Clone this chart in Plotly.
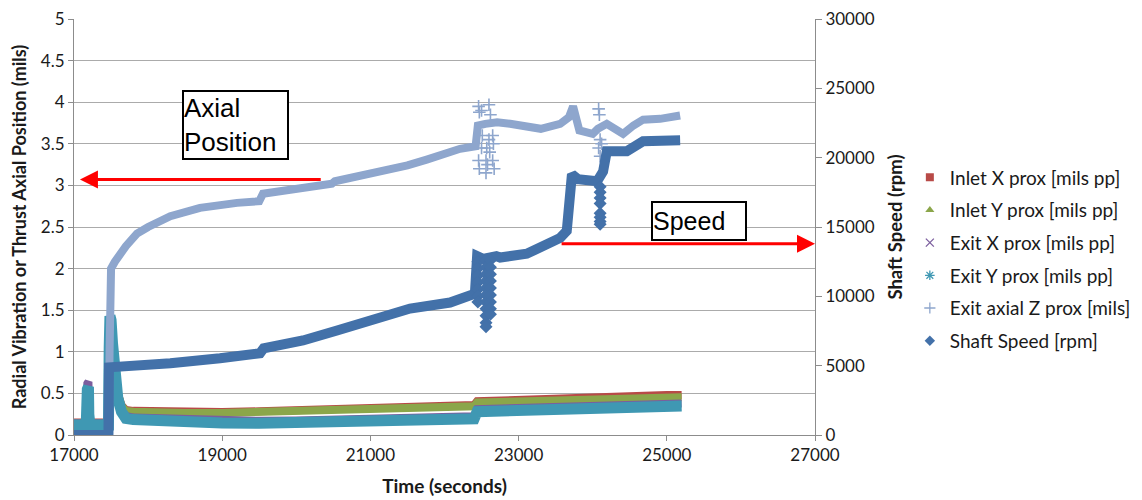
import plotly.graph_objects as go

# ---------------- data ----------------
t_vib = [17000, 17100, 17165, 17180, 17195, 17200, 17215, 17300, 17400, 17465,
         17475, 17485, 17500, 17520, 17550, 17590, 17640, 17700, 17800, 18000,
         18500, 19000, 19500, 20000, 20500, 21000, 21500, 22000, 22400, 22440,
         22700, 23000, 23500, 24000, 24500, 25000, 25200]

inlet_x = [0.15, 0.15, 0.15, 0.17, 0.16, 0.15, 0.15, 0.15, 0.15, 0.15,
           0.9, 1.35, 1.25, 1.0, 0.7, 0.5, 0.36, 0.3, 0.29, 0.285,
           0.28, 0.275, 0.285, 0.30, 0.315, 0.325, 0.335, 0.35, 0.36, 0.405,
           0.415, 0.425, 0.44, 0.455, 0.47, 0.48, 0.48]

inlet_y = [0.14, 0.14, 0.14, 0.15, 0.15, 0.14, 0.14, 0.14, 0.14, 0.14,
           0.85, 1.4, 1.3, 1.05, 0.72, 0.5, 0.35, 0.29, 0.28, 0.27,
           0.265, 0.265, 0.275, 0.285, 0.30, 0.31, 0.32, 0.335, 0.345, 0.39,
           0.395, 0.405, 0.42, 0.435, 0.445, 0.455, 0.455]

exit_x = [0.14, 0.14, 0.14, 0.62, 0.64, 0.3, 0.14, 0.14, 0.14, 0.14,
          1.0, 1.42, 1.35, 1.05, 0.7, 0.45, 0.3, 0.23, 0.21, 0.205,
          0.19, 0.175, 0.17, 0.175, 0.185, 0.195, 0.205, 0.215, 0.225, 0.31,
          0.315, 0.325, 0.34, 0.355, 0.37, 0.38, 0.38]

exit_y = [0.12, 0.12, 0.12, 0.55, 0.58, 0.25, 0.12, 0.12, 0.12, 0.12,
          1.05, 1.43, 1.38, 1.1, 0.72, 0.45, 0.28, 0.2, 0.185, 0.175,
          0.16, 0.145, 0.14, 0.145, 0.155, 0.165, 0.175, 0.185, 0.195, 0.28,
          0.285, 0.295, 0.31, 0.325, 0.34, 0.35, 0.35]

t_axial = [17000, 17470, 17480, 17490, 17500, 17550, 17600, 17700, 17850, 18000,
           18300, 18700, 19200, 19500, 19550, 19700, 20100, 20480, 20520, 21000,
           21500, 21760, 22000, 22210, 22420, 22450, 22550, 22710, 22885, 23110,
           23300, 23560, 23680, 23735, 23780, 23820, 24000, 24070, 24190, 24300,
           24410, 24550, 24680, 24910, 25050, 25180]
axial_z = [0.0, 0.0, 1.0, 1.75, 2.0, 2.08, 2.15, 2.27, 2.42, 2.5,
           2.63, 2.73, 2.79, 2.81, 2.9, 2.92, 2.97, 3.02, 3.05, 3.14,
           3.24, 3.31, 3.38, 3.44, 3.47, 3.72, 3.74, 3.76, 3.74, 3.70,
           3.68, 3.74, 3.82, 3.95, 3.8, 3.66, 3.62, 3.68, 3.74, 3.68,
           3.62, 3.72, 3.79, 3.80, 3.82, 3.84]

t_axial_pts = [22460, 22460, 22470, 22470, 22500, 22500, 22510, 22560, 22560,
               22570, 22580, 22600, 22600, 22610, 22620, 22650, 22650, 22660,
               22670, 24080, 24080, 24090, 24100, 24100, 24120]
axial_pts = [3.95, 3.3, 3.88, 3.2, 3.9, 3.45, 3.6, 3.15, 3.3,
             3.45, 3.25, 3.97, 3.55, 3.4, 3.85, 3.6, 3.3, 3.5,
             3.2, 3.92, 3.45, 3.85, 3.55, 3.35, 3.5]

t_speed = [17000, 17465, 17472, 17600, 18000, 18300, 18970, 19510, 19560, 20090,
           20550, 21000, 21535, 22075, 22410, 22440, 22520, 22700, 22750, 23110,
           23330, 23560, 23650, 23720, 23800, 24060, 24140, 24190, 24460, 24680,
           25180]
speed = [0, 0, 4880, 4900, 5000, 5170, 5530, 5890, 6250, 6820,
         7540, 8200, 9120, 9550, 10190, 12900, 12700, 12900, 12800, 13070,
         13640, 14210, 14720, 18800, 18450, 18300, 19000, 20460, 20460, 21180,
         21250]

t_speed_pts = ([22450] * 7 + [22560] * 11 + [22620] * 9 + [24100] * 8)
speed_pts = [12500, 12000, 11500, 11000, 10500, 10000, 9600,
             12600, 12100, 11600, 11100, 10600, 10100, 9600, 9100, 8600, 8100, 7800,
             12600, 12100, 11600, 11100, 10600, 10100, 9600, 9100, 8700,
             17900, 17500, 17100, 16700, 16000, 15700, 15400, 15200]

names = ["Inlet X prox [mils pp]", "Inlet Y prox [mils pp]", "Exit X prox [mils pp]",
         "Exit Y prox [mils pp]", "Exit axial Z prox [mils]", "Shaft Speed [rpm]"]
colors = ["#B84A47", "#8BA64A", "#7B5E9E", "#3F98B3", "#8EA6CD", "#4371A9"]
symbols = ["square", "triangle-up", "x-thin", "asterisk", "cross-thin", "diamond"]

fig = go.Figure()

vib = [inlet_x, inlet_y, exit_x, exit_y]
widths = [8, 8, 8, 11]
for i, vals in enumerate(vib):
    fig.add_trace(go.Scatter(x=t_vib, y=vals, mode="lines", name=names[i],
                             legendgroup=names[i], showlegend=False,
                             line=dict(color=colors[i], width=widths[i])))

fig.add_trace(go.Scatter(x=t_axial, y=axial_z, mode="lines", name=names[4],
                         legendgroup=names[4], showlegend=False,
                         line=dict(color=colors[4], width=8)))
fig.add_trace(go.Scatter(x=t_axial_pts, y=axial_pts, mode="markers", name=names[4],
                         legendgroup=names[4], showlegend=False,
                         marker=dict(symbol="cross-thin", size=9,
                                     line=dict(color=colors[4], width=1.6))))

fig.add_trace(go.Scatter(x=t_speed, y=speed, mode="lines", name=names[5],
                         legendgroup=names[5], showlegend=False, yaxis="y2",
                         line=dict(color=colors[5], width=10)))
fig.add_trace(go.Scatter(x=t_speed_pts, y=speed_pts, mode="markers", name=names[5],
                         legendgroup=names[5], showlegend=False, yaxis="y2",
                         marker=dict(symbol="diamond", size=10, color=colors[5])))

# legend entries (marker only, as in the reference)
for i in range(6):
    mk = dict(symbol=symbols[i], size=8, color=colors[i])
    if symbols[i] in ("x-thin", "asterisk", "cross-thin"):
        mk = dict(symbol=symbols[i], size=8, line=dict(color=colors[i], width=1.3))
    fig.add_trace(go.Scatter(x=[None], y=[None], mode="markers", name=names[i],
                             legendgroup=names[i], showlegend=True, marker=mk))

axis_font = dict(family="Lato", size=17, color="#1a1a1a")
fig.update_layout(
    width=1134, height=492,
    margin=dict(l=66, r=327, t=11, b=65, autoexpand=False),
    plot_bgcolor="white", paper_bgcolor="white",
    font=axis_font,
    xaxis=dict(range=[17000, 27000], dtick=2000, tick0=17000, tickformat="d",
               automargin=False, ticklabeloverflow="allow",
               showgrid=False, zeroline=False, showline=True, linecolor="#8c8c8c",
               linewidth=1, ticks="outside", ticklen=5, tickcolor="#8c8c8c",
               title=dict(text="<b>Time (seconds)</b>", font=dict(family="Lato", size=19))),
    yaxis=dict(range=[0, 5], dtick=0.5, showgrid=True, gridcolor="#ABABAB",
               automargin=False, ticklabeloverflow="allow",
               gridwidth=1, zeroline=False, showline=True, linecolor="#8c8c8c",
               ticks="outside", ticklen=5, tickcolor="#8c8c8c",
               title=dict(text="<b>Radial Vibration or Thrust Axial Position (mils)</b>",
                          font=dict(family="Lato", size=18))),
    yaxis2=dict(range=[0, 30000], dtick=5000, tickformat="d", overlaying="y",
                automargin=False, ticklabeloverflow="allow",
                side="right", anchor="x", showgrid=False, zeroline=False,
                showline=True, linecolor="#8c8c8c", ticks="outside", ticklen=6,
                tickcolor="#8c8c8c",
                title=dict(text="<b>Shaft Speed (rpm)</b>",
                           font=dict(family="Lato", size=18.5))),
    legend=dict(x=1.128, y=0.665, xanchor="left", yanchor="top",
                font=dict(family="Lato", size=19, color="#1a1a1a"),
                traceorder="grouped", tracegroupgap=5, bgcolor="rgba(0,0,0,0)"),
)

# annotation boxes and arrows
fig.add_annotation(x=19186, y=3.73, xref="x", yref="y", text="Axial<br>Position",
                   showarrow=False, align="left", width=103, height=66,
                   font=dict(family="Liberation Sans", size=26, color="black"),
                   bordercolor="black", borderwidth=2, borderpad=0, bgcolor="white")
fig.add_annotation(x=25435, y=2.57, xref="x", yref="y", text="Speed",
                   showarrow=False, align="left", width=92, height=36,
                   font=dict(family="Liberation Sans", size=25, color="black"),
                   bordercolor="black", borderwidth=2, borderpad=0, bgcolor="white")
fig.add_annotation(x=17080, y=3.07, xref="x", yref="y", ax=20350, ay=3.07,
                   axref="x", ayref="y", text="", showarrow=True, arrowhead=2,
                   arrowsize=1.2, arrowwidth=3, arrowcolor="#FF0000")
fig.add_annotation(x=27000, y=2.30, xref="x", yref="y", ax=23560, ay=2.30,
                   axref="x", ayref="y", text="", showarrow=True, arrowhead=2,
                   arrowsize=1.2, arrowwidth=3, arrowcolor="#FF0000")

fig.write_html("out.html")
